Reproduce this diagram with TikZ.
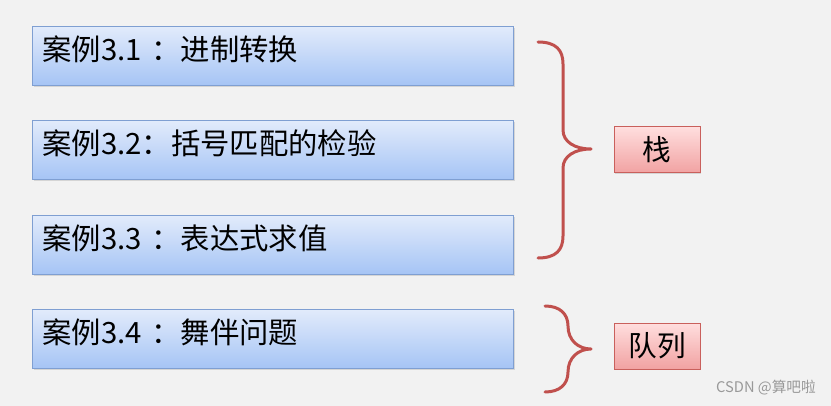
\documentclass[tikz,border=0pt]{standalone}
\usepackage{fontspec}
\setmainfont{Noto Sans CJK SC}
\usetikzlibrary{shadows}

\definecolor{bgGray}{HTML}{F2F2F2}
\definecolor{caseTop}{HTML}{E2EBFB}
\definecolor{caseBot}{HTML}{A5C4F5}
\definecolor{caseEdge}{HTML}{7F9FD2}
\definecolor{kindTop}{HTML}{FFDEDE}
\definecolor{kindBot}{HTML}{F1A2A2}
\definecolor{kindEdge}{HTML}{C9605C}
\definecolor{braceRed}{HTML}{C0504D}

\tikzset{
  casebox/.style={draw=caseEdge, line width=0.75pt, top color=caseTop, bottom color=caseBot,
    anchor=north west, text width=345.75pt, align=left, inner xsep=7.5pt, inner ysep=0pt,
    text height=25.5pt, text depth=18.75pt, font=\fontsize{22}{26}\selectfont,
    drop shadow={shadow xshift=1pt, shadow yshift=-1pt, opacity=0.25}},
  kindbox/.style={draw=kindEdge, line width=0.75pt, top color=kindTop, bottom color=kindBot,
    minimum width=64.5pt, minimum height=34.5pt, inner sep=0pt, font=\fontsize{21.5}{25}\selectfont,
    drop shadow={shadow xshift=1pt, shadow yshift=-1pt, opacity=0.25}},
  bracepath/.style={draw=braceRed, line width=2.25pt, line cap=round, line join=round}
}

\begin{document}
\begin{tikzpicture}[x=0.75pt,y=-0.75pt]
\useasboundingbox[fill=bgGray] (0,0) rectangle (831,406);
\node[casebox] (case1) at (32,26) {案例3.1 ：进制转换};
\node[casebox] (case2) at (32,120) {案例3.2：括号匹配的检验};
\node[casebox] (case3) at (32,215) {案例3.3 ：表达式求值};
\node[casebox] (case4) at (32,309) {案例3.4 ：舞伴问题};
\draw[bracepath] (538,42) .. controls (556,42) and (563,50) .. (563,64) -- (563,130)
  .. controls (563,142) and (575,149) .. (591,149)
  .. controls (575,149) and (563,156) .. (563,168) -- (563,236)
  .. controls (563,250) and (556,258) .. (538,258);
\draw[bracepath] (545,306) .. controls (560,306) and (568,314) .. (568,326)
  .. controls (568,340) and (578,349) .. (591,349)
  .. controls (578,349) and (568,358) .. (568,372)
  .. controls (568,384) and (560,392) .. (545,392);
\node[kindbox] (stack) at (657,150) {栈};
\node[kindbox] (queue) at (657,346) {队列};
\node[text=black!40, font=\fontsize{11}{13}\selectfont] (mark) at (766,388) {CSDN @算吧啦};
\end{tikzpicture}
\end{document}
